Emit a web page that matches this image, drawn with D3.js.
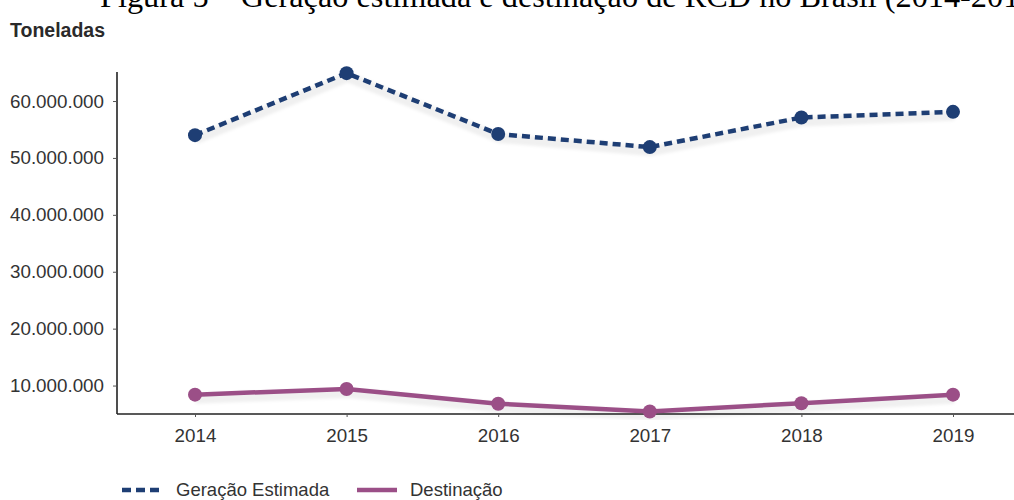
<!DOCTYPE html>
<html>
<head>
<meta charset="utf-8">
<script src="https://cdn.jsdelivr.net/npm/d3@7"></script>
<style>
  html, body { margin: 0; padding: 0; background: #fff; }
  svg { display: block; }
</style>
</head>
<body>
<svg id="chart" width="1014" height="500"></svg>
<script>
// RCD (construction & demolition waste) in Brazil, tonnes per year
const years = [2014, 2015, 2016, 2017, 2018, 2019];
const geracaoEstimada = [54000000, 64900000, 54200000, 51900000, 57100000, 58100000];
const destinacao = [8400000, 9400000, 6800000, 5450000, 6900000, 8400000];
const yTicks = [10000000, 20000000, 30000000, 40000000, 50000000, 60000000];
const seriesNames = ["Geração Estimada", "Destinação"];

const navy = "#1e3e74";
const plum = "#9b4f87";

const svg = d3.select("#chart");

const ptBR = d3.formatLocale({ decimal: ",", thousands: ".", grouping: [3], currency: ["R$", ""] });
const fmt = ptBR.format(",");

const x = d3.scalePoint().domain(years).range([195, 953]);
const y = d3.scaleLinear().domain([5000000, 65100000]).range([414, 72]);

// soft shadow under the lines
const defs = svg.append("defs");
defs.append("filter").attr("id", "soft")
  .attr("x", "-5%").attr("y", "-20%").attr("width", "110%").attr("height", "140%")
  .append("feGaussianBlur").attr("stdDeviation", 1.6);

// caption, running off the top and right edges of the figure
svg.append("text")
  .attr("x", 100).attr("y", 7)
  .attr("font-family", "'Liberation Serif', 'Times New Roman', serif")
  .attr("font-size", 32.3)
  .attr("fill", "#000")
  .text("Figura 5 – Geração estimada e destinação de RCD no Brasil (2014-2019)");

svg.append("text")
  .attr("x", 10).attr("y", 37)
  .attr("font-family", "'Liberation Sans', Arial, sans-serif")
  .attr("font-weight", "bold")
  .attr("font-size", 19.5)
  .attr("fill", "#2a2a2a")
  .text("Toneladas");

// axes
const yAxis = svg.append("g")
  .attr("transform", "translate(117,0)")
  .call(d3.axisLeft(y).tickValues(yTicks).tickFormat(fmt).tickSize(4).tickPadding(9));
yAxis.select(".domain").attr("d", `M0,${y.range()[1]}V${y.range()[0]}`);

const xAxis = svg.append("g")
  .attr("transform", `translate(0,${y.range()[0]})`)
  .call(d3.axisBottom(x).tickSize(3).tickPadding(12));
xAxis.select(".domain").attr("d", "M117,0H1014");

svg.selectAll(".domain").attr("stroke", "#222").attr("stroke-width", 1.6);
svg.selectAll(".tick line").attr("stroke", "#555").attr("stroke-width", 1);
svg.selectAll(".tick text")
  .attr("font-family", "'Liberation Sans', Arial, sans-serif")
  .attr("font-size", 18.8)
  .attr("fill", "#333");

const line = d3.line().x((d, i) => x(years[i])).y(d => y(d));

function drawSeries(values, color, dash) {
  svg.append("path")
    .datum(values)
    .attr("d", line)
    .attr("fill", "none")
    .attr("stroke", "#000")
    .attr("stroke-opacity", 0.06)
    .attr("stroke-width", 10)
    .attr("transform", "translate(1,4)")
    .attr("filter", "url(#soft)");
  svg.append("path")
    .datum(values)
    .attr("d", line)
    .attr("fill", "none")
    .attr("stroke", color)
    .attr("stroke-width", 4.5)
    .attr("stroke-dasharray", dash)
    .attr("stroke-linejoin", "round");
  svg.append("g").selectAll("circle")
    .data(values)
    .join("circle")
    .attr("cx", (d, i) => x(years[i]))
    .attr("cy", d => y(d))
    .attr("r", 7)
    .attr("fill", color);
}

drawSeries(geracaoEstimada, navy, "8,5");
drawSeries(destinacao, plum, null);

// legend
const legend = svg.append("g").attr("transform", "translate(0,490)");
const legendItems = [
  { name: seriesNames[0], color: navy, dash: "9,5", x0: 122, tx: 176 },
  { name: seriesNames[1], color: plum, dash: null, x0: 357, tx: 410 }
];
legendItems.forEach(it => {
  legend.append("line")
    .attr("x1", it.x0).attr("x2", it.x0 + 40)
    .attr("y1", 0).attr("y2", 0)
    .attr("stroke", it.color)
    .attr("stroke-width", 4.5)
    .attr("stroke-dasharray", it.dash);
  legend.append("text")
    .attr("x", it.tx).attr("y", 0)
    .attr("dy", "0.35em")
    .attr("font-family", "'Liberation Sans', Arial, sans-serif")
    .attr("font-size", 18.5)
    .attr("fill", "#333")
    .text(it.name);
});
</script>
</body>
</html>
